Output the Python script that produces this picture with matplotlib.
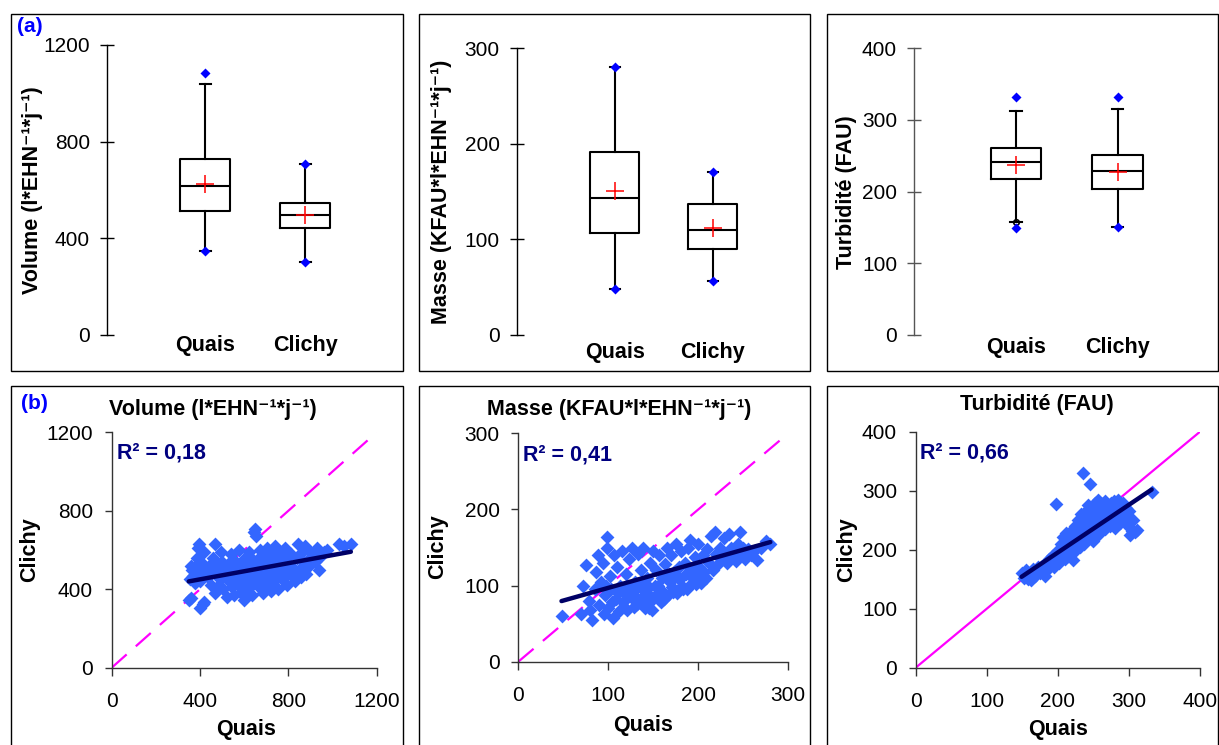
import matplotlib
matplotlib.use('Agg')
import matplotlib.pyplot as plt
from matplotlib.patches import Rectangle
import numpy as np

plt.rcParams['font.family'] = ['Liberation Sans', 'DejaVu Sans']

# ---------------------------------------------------------------- data
sites = ['Quais', 'Clichy']

# (a) box plots: quartiles, whiskers, means, extremes
vol_q1 = [513, 441]
vol_med = [618, 497]
vol_q3 = [728, 547]
vol_wlo = [349, 301]
vol_whi = [1038, 707]
vol_mean = [625, 497]
vol_min = [349, 301]
vol_max = [1083, 707]

mas_q1 = [106.4, 90.3]
mas_med = [143.7, 109.9]
mas_q3 = [191.5, 136.8]
mas_wlo = [47.8, 56.5]
mas_whi = [280.8, 170.2]
mas_mean = [150.7, 111.6]
mas_min = [47.8, 56.5]
mas_max = [280.8, 170.2]

tur_q1 = [217.2, 203.7]
tur_med = [241.9, 229.3]
tur_q3 = [260.5, 251.2]
tur_wlo = [158.1, 151.1]
tur_whi = [313.0, 315.4]
tur_mean = [237.2, 227.9]
tur_min = [148.8, 151.1]
tur_max = [331.6, 331.6]
tur_flier_quais = [158.1]

# (b) scatter Quais (x) vs Clichy (y)
vol_quais = [349, 360, 370, 380, 390, 395, 400, 413, 420, 355, 365, 375, 385, 395, 405, 415, 420, 400, 360, 410, 468,
             430, 440, 450, 460, 470, 480, 490, 500, 505, 510,
             520, 525, 530, 540, 545, 550, 555, 560, 565, 570,
             575, 580, 585, 590, 595, 600, 605, 610, 615, 620,
             625, 630, 635, 640, 645, 650, 655, 660, 665, 670,
             675, 680, 685, 690, 695, 700, 705, 710, 715, 720,
             725, 730, 735, 740, 745, 750, 755, 760, 765, 770,
             780, 785, 790, 795, 800, 810, 815, 820, 830, 840,
             845, 850, 855, 860, 870, 875, 880, 890, 895, 900,
             910, 920, 930, 940, 950, 960, 975, 1030, 1050, 1083,
             505, 515, 535, 545, 560, 575, 590, 600, 610, 620,
             635, 650, 655, 665, 680, 690, 700, 710, 720, 730,
             740, 750, 760, 775, 790, 450, 470, 485, 495, 545]
vol_clichy = [345, 355, 470, 520, 610, 630, 304, 326, 335, 450, 500, 430, 560, 480, 540, 460, 590, 440, 520, 500, 630,
              470, 520, 420, 560, 380, 500, 450, 540, 400, 480,
              360, 530, 440, 580, 410, 500, 370, 460, 540, 420,
              600, 480, 380, 520, 440, 345, 560, 470, 400, 590,
              510, 430, 370, 550, 690, 705, 670, 480, 410, 600,
              520, 450, 380, 560, 490, 420, 610, 530, 460, 390,
              580, 500, 440, 620, 540, 470, 400, 590, 510, 450,
              560, 610, 480, 420, 530, 580, 470, 510, 440, 560,
              630, 500, 460, 590, 540, 620, 480, 600, 520, 560,
              580, 540, 610, 500, 570, 590, 600, 630, 620, 630,
              470, 500, 460, 520, 430, 490, 410, 500, 540, 450,
              480, 520, 440, 560, 500, 430, 520, 480, 540, 460,
              520, 560, 480, 530, 560, 480, 540, 420, 590, 470]

mas_quais = [48, 70, 72, 75, 78, 80, 82, 85, 86, 88,
             90, 92, 94, 95, 96, 98, 99, 100, 102, 103,
             105, 106, 108, 110, 112, 113, 115, 116, 118, 120,
             121, 123, 125, 126, 128, 130, 131, 133, 135, 136,
             138, 140, 141, 143, 145, 146, 148, 150, 151, 153,
             155, 156, 158, 160, 161, 163, 165, 166, 168, 170,
             171, 173, 175, 176, 178, 180, 181, 183, 185, 186,
             188, 190, 191, 193, 195, 196, 198, 200, 201, 203,
             205, 206, 208, 210, 212, 214, 216, 218, 220, 222,
             224, 226, 228, 230, 232, 234, 236, 238, 240, 242,
             244, 246, 248, 250, 252, 255, 258, 262, 265, 270,
             275, 280,
             97, 104, 111, 117, 124, 127, 132, 137, 142, 147,
             152, 157, 162, 167, 172, 177, 182, 187, 192, 197, 145]
mas_clichy = [60, 62, 100, 127, 80, 68, 55, 95, 118, 140,
              75, 105, 130, 62, 88, 164, 150, 70, 112, 96,
              58, 140, 82, 125, 66, 100, 145, 78, 90, 115,
              68, 135, 85, 150, 72, 105, 95, 142, 80, 120,
              150, 88, 70, 110, 98, 130, 68, 145, 85, 120,
              100, 140, 78, 110, 92, 128, 150, 88, 105, 140,
              98, 118, 155, 90, 125, 108, 145, 95, 130, 115,
              150, 100, 160, 122, 108, 138, 115, 155, 125, 104,
              140, 118, 110, 148, 130, 165, 120, 170, 142, 128,
              150, 135, 162, 140, 130, 168, 150, 138, 145, 132,
              155, 170, 140, 150, 135, 148, 140, 145, 133, 150,
              158, 155,
              100, 78, 90, 72, 98, 88, 76, 102, 92, 80,
              100, 90, 82, 115, 92, 110, 100, 96, 112, 102, 70]

tur_quais = [149, 152, 155, 158, 160, 162, 165, 168, 170, 172,
             175, 178, 180, 182, 184, 186, 188, 190, 192, 194,
             195, 197, 198, 199, 200, 201, 202, 204, 205, 206,
             207, 208, 209, 210, 211, 212, 213, 214, 215, 216,
             217, 218, 219, 220, 221, 222, 223, 224, 225, 226,
             227, 228, 229, 230, 231, 232, 233, 234, 235, 236,
             236, 237, 238, 239, 240, 241, 242, 243, 244, 245,
             245, 246, 247, 248, 249, 250, 251, 252, 253, 254,
             255, 256, 257, 258, 259, 260, 261, 262, 263, 264,
             265, 266, 267, 268, 269, 270, 271, 272, 274, 275,
             276, 278, 279, 280, 282, 284, 285, 287, 288, 290,
             292, 294, 296, 298, 300, 302, 305, 306, 308, 311,
             332]
tur_clichy = [160, 152, 165, 150, 158, 148, 168, 155, 162, 170,
              160, 172, 165, 155, 178, 168, 185, 175, 190, 180,
              170, 195, 278, 185, 200, 178, 192, 210, 185, 200,
              222, 195, 208, 185, 215, 228, 200, 190, 212, 225,
              205, 232, 196, 215, 182, 228, 208, 240, 220, 200,
              235, 215, 250, 225, 205, 240, 260, 218, 230, 330,
              245, 210, 255, 228, 265, 240, 220, 275, 235, 312,
              250, 228, 260, 242, 270, 215, 255, 280, 238, 265,
              250, 225, 285, 245, 270, 232, 258, 278, 240, 262,
              250, 282, 235, 268, 255, 245, 275, 260, 240, 280,
              265, 250, 283, 236, 270, 258, 285, 245, 275, 262,
              280, 250, 270, 240, 265, 225, 232, 250, 230, 233,
              298]

# trend lines (slope, intercept) and R2 labels
trend_slope = [0.206, 0.334, 0.808]
trend_intercept = [368.0, 63.6, 33.7]
r2_labels = ['0,18', '0,41', '0,66']

# ---------------------------------------------------------------- figure
W, H = 1219, 745
fig = plt.figure(figsize=(W / 100, H / 100), dpi=100)

BLUE_PT = '#3366FF'
NAVY = '#000066'
MAGENTA = '#FF00FF'
FS = 15


def px_axes(left, right, top, bottom):
    ax = fig.add_axes([left / W, 1 - bottom / H, (right - left) / W, (bottom - top) / H])
    ax._px = (left, right, top, bottom)
    return ax


def to_axes(ax, x_px, y_px):
    l, r, t, b = ax._px
    return (x_px - l) / (r - l), (b - y_px) / (b - t)


def frame(x0, y0, x1, y1):
    fig.add_artist(Rectangle((x0 / W, 1 - y1 / H), (x1 - x0) / W, (y1 - y0) / H,
                             transform=fig.transFigure, fill=False, lw=1.0, ec='black'))


# panel frames
for fx0, fx1 in [(11, 403), (419, 810), (827, 1218)]:
    frame(fx0, 14, fx1, 371)
    frame(fx0, 385.7, fx1, 760)

ylab_vol = 'Volume (l*EHN⁻¹*j⁻¹)'
ylab_mas = 'Masse (KFAU*l*EHN⁻¹*j⁻¹)'
ylab_tur = 'Turbidité (FAU)'

# ---------------------------------------------------------------- (a) box plots
box_specs = [
    dict(px=(107, 395, 45, 335), xlim=(0.02, 2.90), ylim=(0, 1200), yticks=[0, 400, 800, 1200],
         q1=vol_q1, med=vol_med, q3=vol_q3, wlo=vol_wlo, whi=vol_whi, mean=vol_mean,
         mn=vol_min, mx=vol_max, label=ylab_vol, lab_px=(33, 190), axcol='black', lpad=0.0),
    dict(px=(516.7, 800, 48.3, 335), xlim=(-0.003, 2.888), ylim=(0, 300), yticks=[0, 100, 200, 300],
         q1=mas_q1, med=mas_med, q3=mas_q3, wlo=mas_wlo, whi=mas_whi, mean=mas_mean,
         mn=mas_min, mx=mas_max, label=ylab_mas, lab_px=(441.7, 192), axcol='black', lpad=5),
    dict(px=(914, 1205, 48.3, 335), xlim=(-0.003, 2.858), ylim=(0, 400), yticks=[0, 100, 200, 300, 400],
         q1=tur_q1, med=tur_med, q3=tur_q3, wlo=tur_wlo, whi=tur_whi, mean=tur_mean,
         mn=tur_min, mx=tur_max, label=ylab_tur, lab_px=(846.7, 192), axcol='#555555', lpad=1.5),
]

for i, sp in enumerate(box_specs):
    ax = px_axes(*sp['px'])
    stats = []
    for k in range(len(sites)):
        fl = tur_flier_quais if (i == 2 and k == 0) else []
        stats.append(dict(med=sp['med'][k], q1=sp['q1'][k], q3=sp['q3'][k],
                          whislo=sp['wlo'][k], whishi=sp['whi'][k], fliers=fl))
    pos = np.arange(1, len(sites) + 1)
    lp = dict(color='black', lw=1.5)
    ax.bxp(stats, positions=pos, widths=0.5, showfliers=True, boxprops=lp,
           whiskerprops=lp, capprops=lp, medianprops=lp, capwidths=0.11,
           flierprops=dict(marker='o', mfc='none', mec='black', ms=4, mew=1.2))
    ax.plot(pos, sp['mx'], ls='none', marker='D', color='blue', mec='none', ms=5.5, zorder=4)
    ax.plot(pos, sp['mn'], ls='none', marker='D', color='blue', mec='none', ms=5.5, zorder=4)
    ax.plot(pos, sp['mean'], ls='none', marker='+', color='red', ms=13, mew=1.1, zorder=5)
    ax.set_xlim(*sp['xlim'])
    ax.set_ylim(*sp['ylim'])
    ax.set_yticks(sp['yticks'])
    ax.set_xticks(pos)
    ax.set_xticklabels(sites, fontsize=FS + 0.5, fontweight='bold')
    ax.tick_params(axis='x', length=0, pad=sp['lpad'])
    ax.tick_params(axis='y', direction='inout', length=9.6, width=1.0, pad=7.4,
                   labelsize=FS, color=sp['axcol'])
    for s in ['top', 'right', 'bottom']:
        ax.spines[s].set_visible(False)
    ax.spines['left'].set_color(sp['axcol'])
    ax.spines['left'].set_linewidth(1.0)
    ax.patch.set_alpha(0)
    ax.set_ylabel(sp['label'], fontsize=FS + 0.5, fontweight='bold')
    ax.yaxis.set_label_coords(*to_axes(ax, *sp['lab_px']))
    ax.yaxis.label.set_va('center')

fig.text(17 / W, 1 - 26 / H, '(a)', color='blue', fontsize=FS, fontweight='bold',
         ha='left', va='center')

# ---------------------------------------------------------------- (b) scatter plots
sc_specs = [
    dict(px=(111.7, 376.7, 432.3, 667.7), lim=1200, ticks=[0, 400, 800, 1200],
         x=vol_quais, y=vol_clichy, title=ylab_vol, title_px=(213, 409),
         r2_px=(116.7, 453.3), xl_px=(245.7, 730), yl_px=(30, 550), dashed=True),
    dict(px=(518.3, 788.3, 433.3, 661.7), lim=300, ticks=[0, 100, 200, 300],
         x=mas_quais, y=mas_clichy, title=ylab_mas, title_px=(619, 409),
         r2_px=(523.3, 455), xl_px=(643.3, 725), yl_px=(437.3, 547), dashed=True),
    dict(px=(915.7, 1200, 431.7, 667.7), lim=400, ticks=[0, 100, 200, 300, 400],
         x=tur_quais, y=tur_clichy, title=ylab_tur, title_px=(1036.7, 404),
         r2_px=(920, 453.3), xl_px=(1058.3, 730), yl_px=(846.7, 550), dashed=False),
]

for i, sp in enumerate(sc_specs):
    ax = px_axes(*sp['px'])
    ax.set_xlim(0, sp['lim'])
    ax.set_ylim(0, sp['lim'])
    if sp['dashed']:
        ax.axline((0, 0), slope=1, color=MAGENTA, lw=1.6, dashes=(9, 5.5), zorder=1)
    else:
        ax.axline((0, 0), slope=1, color=MAGENTA, lw=1.6, zorder=1)
    ax.scatter(sp['x'], sp['y'], marker='D', s=50, color=BLUE_PT, linewidths=0, zorder=2,
               clip_on=False)
    xs = np.array([min(sp['x']), max(sp['x'])], dtype=float)
    ax.plot(xs, trend_intercept[i] + trend_slope[i] * xs, color=NAVY, lw=3.2,
            solid_capstyle='round', zorder=3)
    ax.set_xticks(sp['ticks'])
    ax.set_yticks(sp['ticks'])
    ax.tick_params(axis='x', direction='out', length=5.5, width=1.0, pad=12.2,
                   labelsize=FS, color='#333333')
    ax.tick_params(axis='y', direction='out', length=5.0, width=1.0, pad=8.4,
                   labelsize=FS, color='#333333')
    for s in ['top', 'right']:
        ax.spines[s].set_visible(False)
    for s in ['left', 'bottom']:
        ax.spines[s].set_color('#333333')
        ax.spines[s].set_linewidth(1.0)
    ax.patch.set_alpha(0)
    ax.set_xlabel('Quais', fontsize=FS + 0.5, fontweight='bold')
    ax.xaxis.set_label_coords(*to_axes(ax, *sp['xl_px']))
    ax.xaxis.label.set_va('center')
    ax.set_ylabel('Clichy', fontsize=FS + 0.5, fontweight='bold')
    ax.yaxis.set_label_coords(*to_axes(ax, *sp['yl_px']))
    ax.yaxis.label.set_va('center')
    tx, ty = to_axes(ax, *sp['title_px'])
    ax.text(tx, ty, sp['title'], transform=ax.transAxes, ha='center', va='center',
            fontsize=FS + 0.5, fontweight='bold', clip_on=False)
    rx, ry = to_axes(ax, *sp['r2_px'])
    ax.text(rx, ry, 'R² = ' + r2_labels[i], transform=ax.transAxes,
            ha='left', va='center', fontsize=FS + 0.5, fontweight='bold', color='#000080')

fig.text(21 / W, 1 - 403 / H, '(b)', color='blue', fontsize=FS, fontweight='bold',
         ha='left', va='center')

fig.savefig('out.png', dpi=100)
